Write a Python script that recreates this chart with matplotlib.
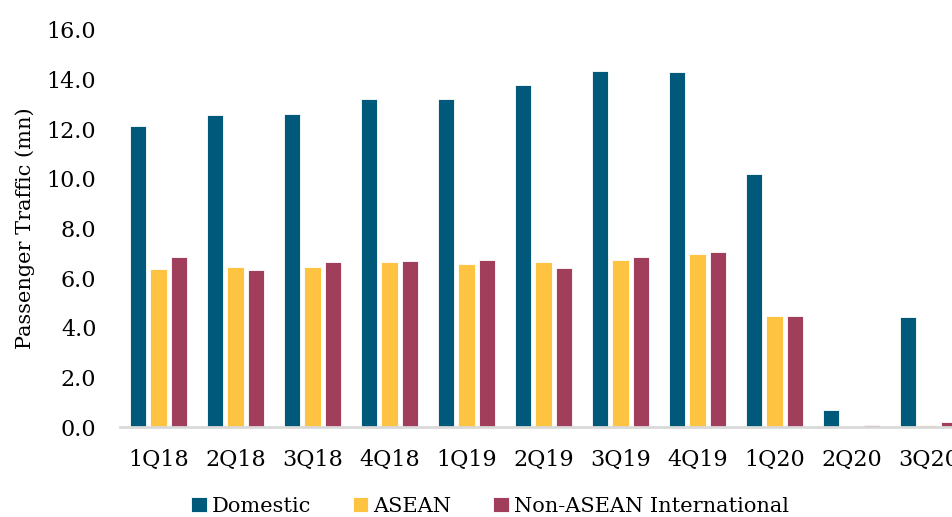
import numpy as np
import matplotlib
matplotlib.use('Agg')
import matplotlib.pyplot as plt

quarters = ['1Q18', '2Q18', '3Q18', '4Q18', '1Q19', '2Q19', '3Q19', '4Q19', '1Q20', '2Q20', '3Q20']
domestic = [12.15, 12.59, 12.62, 13.23, 13.23, 13.79, 14.35, 14.31, 10.20, 0.69, 4.42]
asean = [6.38, 6.45, 6.45, 6.65, 6.57, 6.65, 6.73, 6.98, 4.48, 0.0, 0.07]
non_asean = [6.85, 6.33, 6.64, 6.69, 6.73, 6.41, 6.85, 7.06, 4.48, 0.08, 0.19]

series = [('Domestic', domestic, '#00587A'),
          ('ASEAN', asean, '#FFC342'),
          ('Non-ASEAN International', non_asean, '#A13E5B')]

plt.rcParams['font.family'] = ['DejaVu Serif']

W, H = 953, 517
fig = plt.figure(figsize=(W / 100, H / 100), dpi=100)
ax = fig.add_axes([120 / W, 1 - 427 / H, (W - 120) / W, (427 - 30) / H])

x = np.arange(len(quarters))
width = 0.21
step = 0.265
for i, (name, vals, col) in enumerate(series):
    ax.bar(x + (i - 1) * step, vals, width, color=col, label=name,
           edgecolor='white', linewidth=0.6)

ax.set_ylim(0, 16)
ax.set_xlim(-0.5, 10 + (W - 928.5) / 76.7)
ax.set_yticks(np.arange(0, 17, 2))
ax.set_yticklabels([f'{v:.1f}' for v in np.arange(0, 17, 2)])
ax.set_xticks(x)
ax.set_xticklabels(quarters)
ax.tick_params(axis='both', length=0, labelsize=16, colors='black')
ax.tick_params(axis='x', pad=16)
ax.tick_params(axis='y', pad=17)
for s in ['top', 'right', 'left']:
    ax.spines[s].set_visible(False)
ax.spines['bottom'].set_color('#D9D9D9')
ax.spines['bottom'].set_linewidth(2)

ax.set_ylabel('Passenger Traffic (mn)', fontsize=15)
ax.yaxis.set_label_coords(-0.102, 0.5)

fig.legend(loc='center', bbox_to_anchor=(490 / W, 1 - 506 / H), ncol=3,
           frameon=False, fontsize=15, handlelength=0.75, handleheight=0.75,
           handletextpad=0.25, columnspacing=2.0)

fig.savefig('out.png', dpi=100)
